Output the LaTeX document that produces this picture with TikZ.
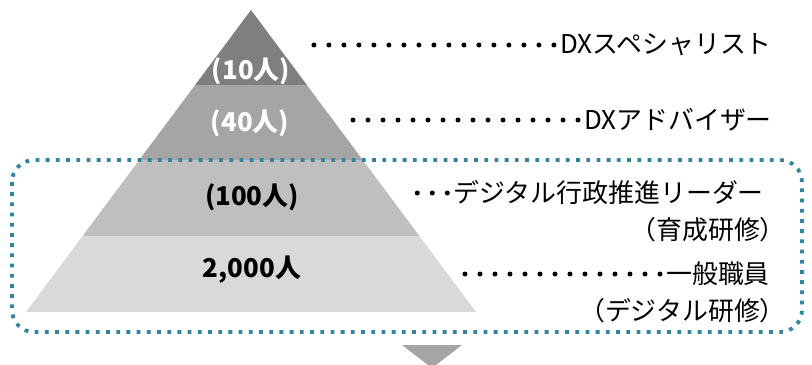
\documentclass[tikz,border=0pt]{standalone}
\usepackage{fontspec}
\setmainfont{Noto Sans CJK JP}
\usetikzlibrary{positioning}

\definecolor{dxteal}{HTML}{31859C}
\definecolor{lvA}{HTML}{7F7F7F}
\definecolor{lvB}{HTML}{A5A5A5}
\definecolor{lvC}{HTML}{BFBFBF}
\definecolor{lvD}{HTML}{D9D9D9}

\begin{document}
\begin{tikzpicture}[x=1bp,y=-1bp]
\tikzset{count/.style={font=\fontsize{26}{30}\selectfont\bfseries,inner sep=0pt}}
\tikzset{role/.style={font=\fontsize{26}{30}\selectfont,inner sep=0pt,anchor=east}}
\tikzset{leader/.style={line width=5bp,line cap=round,dash pattern=on 0pt off 15bp,shorten <=6bp}}
\tikzset{frame/.style={draw=dxteal,line width=3.8bp,dash pattern=on 3.8bp off 6.4bp,rounded corners=22bp}}

  \useasboundingbox (0,0) rectangle (812,364);
  \clip (0,0) rectangle (812,364);

  % pyramid
  \coordinate (apex) at (251,10);
  \coordinate (bl)   at (26,312);
  \coordinate (br)   at (476,312);
  \begin{scope}
    \clip (apex) -- (bl) -- (br) -- cycle;
    \fill[lvA] (0,0)   rectangle (812,85);
    \fill[lvB] (0,85)  rectangle (812,160);
    \fill[lvC] (0,160) rectangle (812,236);
    \fill[lvD] (0,236) rectangle (812,312);
  \end{scope}

        \node[count,text=white] (n10)   at (251,71)  {(10人)};
        \node[count,text=white] (n40)   at (250,123) {(40人)};
        \node[count]            (n100)  at (252,197) {(100人)};
        \node[count]            (n2000) at (252,270) {2,000人};

  % labels
        \node[role] (spec)  at (772,45)  {DXスペシャリスト};
        \node[role] (adv)   at (772,120) {DXアドバイザー};
        \node[role] (lead)  at (764,193) {デジタル行政推進リーダー};
        \node[role] (leadT) at (786,230) {（育成研修）};
        \node[role] (staff) at (770,274) {一般職員};
        \node[role] (staffT) at (786,311) {（デジタル研修）};

        \coordinate (s1) at (300,45);
        \coordinate (s2) at (343,120);
        \coordinate (s3) at (405,193);
        \coordinate (s4) at (462,274);

        \draw[leader] (spec)  -- (s1);
        \draw[leader] (adv)   -- (s2);
        \draw[leader] (lead)  -- (s3);
        \draw[leader] (staff) -- (s4);

  % target group
  \draw[frame] (12,160) rectangle (802,332);

  \fill[lvB] (402,345) -- (462,345) -- (432,368) -- cycle;
\end{tikzpicture}
\end{document}
